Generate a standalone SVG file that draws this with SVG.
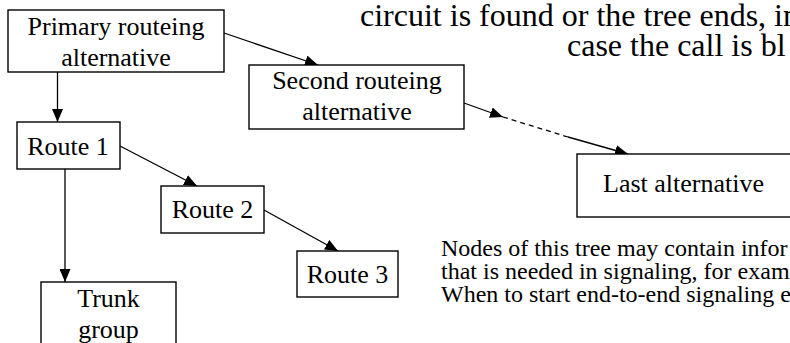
<svg xmlns="http://www.w3.org/2000/svg" width="790" height="343" viewBox="0 0 790 343">
<style>
.box{fill:#fff;stroke:#000;stroke-width:1.4}
.t{font-family:"Liberation Serif","Times New Roman",serif;font-size:26px;fill:#000}
.big{font-family:"Liberation Serif","Times New Roman",serif;font-size:32px;fill:#000}
.note{font-family:"Liberation Serif","Times New Roman",serif;font-size:24px;fill:#000}
.c{fill:none;stroke:#000;stroke-width:1.3}
.d{fill:none;stroke:#000;stroke-width:1.3;stroke-dasharray:5 4}
</style>
<defs>
<marker id="ah" markerUnits="userSpaceOnUse" markerWidth="13" markerHeight="11" refX="13" refY="5.5" orient="auto">
<path d="M0,0 L13,5.5 L0,11 z" fill="#000"/>
</marker>
</defs>
<text class="big" x="360" y="26">circuit is found or the tree ends, in</text>
<text class="big" x="567" y="56">case the call is bl</text>
<g id="connectors">
<line class="c" x1="224" y1="33" x2="318" y2="65" marker-end="url(#ah)"/>
<line class="c" x1="57.5" y1="72" x2="57.5" y2="122" marker-end="url(#ah)"/>
<line class="c" x1="120" y1="146" x2="197" y2="186" marker-end="url(#ah)"/>
<line class="c" x1="264" y1="210" x2="338" y2="251" marker-end="url(#ah)"/>
<line class="c" x1="65" y1="169" x2="65" y2="282" marker-end="url(#ah)"/>
<line class="c" x1="464" y1="103" x2="503" y2="117" marker-end="url(#ah)"/>
<line class="d" x1="503" y1="117" x2="568" y2="137"/>
<line class="c" x1="568" y1="137" x2="628" y2="154" marker-end="url(#ah)"/>
</g>
<g id="primary">
<rect class="box" x="8" y="10" width="216" height="62"/>
<text class="t" x="116" y="35" text-anchor="middle">Primary routeing</text>
<text class="t" x="116" y="66" text-anchor="middle">alternative</text>
</g>
<g id="second">
<rect class="box" x="249" y="65" width="215" height="64"/>
<text class="t" x="357" y="89" text-anchor="middle">Second routeing</text>
<text class="t" x="357" y="120" text-anchor="middle">alternative</text>
</g>
<g id="last">
<rect class="box" x="577" y="154" width="215" height="63"/>
<text class="t" x="603" y="192">Last alternative</text>
</g>
<g id="route1">
<rect class="box" x="17" y="122" width="103" height="47"/>
<text class="t" x="68" y="155" text-anchor="middle">Route 1</text>
</g>
<g id="route2">
<rect class="box" x="161" y="186" width="103" height="47"/>
<text class="t" x="212.5" y="218" text-anchor="middle">Route 2</text>
</g>
<g id="route3">
<rect class="box" x="297" y="251" width="101" height="46"/>
<text class="t" x="347.5" y="283" text-anchor="middle">Route 3</text>
</g>
<g id="trunk">
<rect class="box" x="41" y="282" width="135" height="70"/>
<text class="t" x="108.5" y="307" text-anchor="middle">Trunk</text>
<text class="t" x="108.5" y="338" text-anchor="middle">group</text>
</g>
<g id="note">
<text class="note" x="441" y="256">Nodes of this tree may contain infor</text>
<text class="note" x="441" y="279">that is needed in signaling, for examp</text>
<text class="note" x="441" y="302">When to start end-to-end signaling e</text>
</g>
</svg>
